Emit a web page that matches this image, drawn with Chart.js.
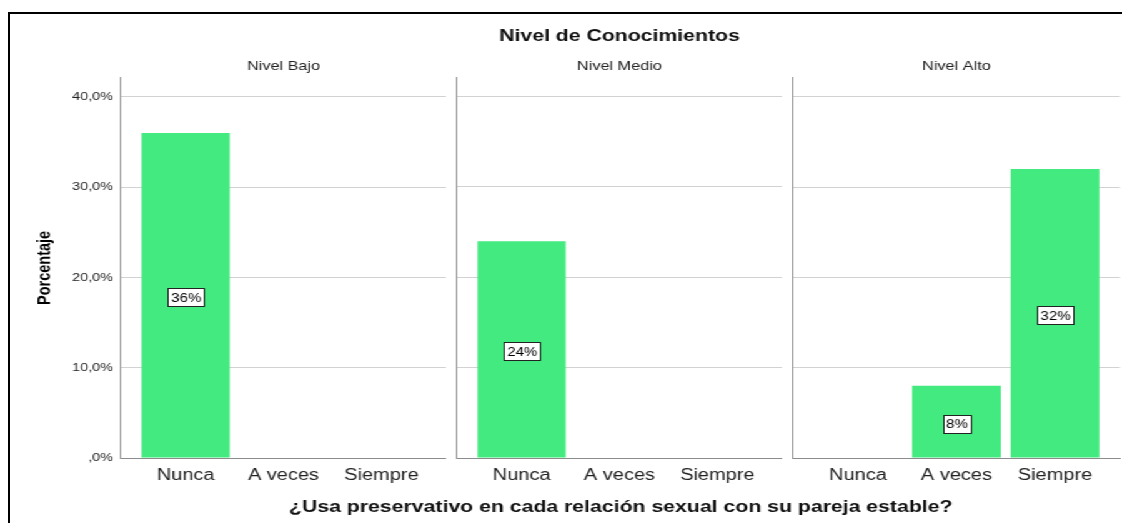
<!DOCTYPE html>
<html>
<head>
<meta charset="utf-8">
<script src="https://cdn.jsdelivr.net/npm/chart.js@4/dist/chart.umd.min.js"></script>
<style>
  body { margin: 0; background: #fff; width: 1122px; height: 523px; overflow: hidden; position: relative; }
  #frame { position: absolute; left: 8px; top: 12px; width: 1200px; height: 600px; border-left: 2px solid #000; border-top: 2px solid #000; }
  /* the original export is stretched horizontally, so the canvases are too */
  #wrap { position: absolute; left: 0; top: 0; width: 898px; height: 523px; transform: scaleX(1.24944); transform-origin: 0 0; }
  canvas { position: absolute; left: 0; top: 0; }
</style>
</head>
<body>
<div id="frame"></div>
<div id="wrap">
  <canvas id="c1" width="898" height="523"></canvas>
  <canvas id="c2" width="898" height="523"></canvas>
  <canvas id="c3" width="898" height="523"></canvas>
</div>
<script>
const chartTitle = 'Nivel de Conocimientos';
const xAxisTitle = '¿Usa preservativo en cada relación sexual con su pareja estable?';
const yAxisTitle = 'Porcentaje';
const categories = ['Nunca', 'A veces', 'Siempre'];
const panelTitles = ['Nivel Bajo', 'Nivel Medio', 'Nivel Alto'];
const nivelBajo = [36, 0, 0];
const nivelMedio = [24, 0, 0];
const nivelAlto = [0, 8, 32];
const yTickValues = [0, 10, 20, 30, 40];
const yTickLabels = [',0%', '10,0%', '20,0%', '30,0%', '40,0%'];

const FONT = '"Liberation Sans", Arial, sans-serif';
const GREEN = '#42EA7F';
const W = 898;
const S = 1122 / W;   // horizontal stretch

// boxed percentage in the middle of each bar
const boxLabels = {
  id: 'boxLabels',
  afterDatasetsDraw(chart) {
    const ctx = chart.ctx;
    const meta = chart.getDatasetMeta(0);
    const ds = chart.data.datasets[0];
    ctx.save();
    ctx.font = '12px ' + FONT;
    ctx.textAlign = 'center';
    ctx.textBaseline = 'middle';
    meta.data.forEach((bar, i) => {
      const v = ds.data[i].y;
      if (!v) return;
      const txt = v + '%';
      const w = Math.round(ctx.measureText(txt).width + 5);
      const h = 18;
      const cx = bar.x;
      const cy = (bar.y + bar.base) / 2 + 2;
      const x0 = Math.round(cx - w / 2) + 0.5, y0 = Math.round(cy - h / 2) + 0.5;
      ctx.fillStyle = '#fff';
      ctx.fillRect(x0, y0, w, h);
      ctx.strokeStyle = '#222';
      ctx.lineWidth = 1;
      ctx.strokeRect(x0, y0, w, h);
      ctx.fillStyle = '#000';
      ctx.fillText(txt, cx + 0.5, cy + 1);
    });
    ctx.restore();
  }
};

// x axis title spanning all three panels (drawn from the middle panel)
const bigXTitle = {
  id: 'bigXTitle',
  afterDraw(chart) {
    const ctx = chart.ctx;
    const a = chart.chartArea;
    ctx.save();
    ctx.font = 'bold 17px ' + FONT;
    ctx.fillStyle = '#111';
    ctx.textAlign = 'center';
    ctx.textBaseline = 'middle';
    ctx.fillText(xAxisTitle, (a.left + a.right) / 2 + 1, 507);
    ctx.restore();
  }
};

function makePanel(id, idx, values, padLeft, padRight) {
  const first = idx === 0;
  const middle = idx === 1;
  const plugins = [boxLabels];
  if (middle) plugins.push(bigXTitle);

  return new Chart(document.getElementById(id), {
    type: 'bar',
    data: {
      datasets: [{
        data: values.map((v, i) => ({ x: i, y: v })),
        backgroundColor: GREEN,
        borderWidth: 0,
        barPercentage: 0.9,
        categoryPercentage: 1
      }]
    },
    options: {
      responsive: false,
      animation: false,
      layout: { padding: { left: padLeft, right: padRight, top: 0, bottom: 0 } },
      plugins: {
        legend: { display: false },
        tooltip: { enabled: false },
        title: middle ? {
          display: true, text: chartTitle, fullSize: false, color: '#111',
          font: { family: FONT, size: 17, weight: 'bold', lineHeight: 1.2 },
          padding: { top: 26.5, bottom: 11.6 }
        } : {
          display: true, text: panelTitles[idx], fullSize: false, color: '#222',
          font: { family: FONT, size: 13, weight: 'normal', lineHeight: 1.2 },
          padding: { top: 58.7, bottom: 3.5 }
        },
        subtitle: {
          display: middle, text: panelTitles[idx], fullSize: false, color: '#222',
          font: { family: FONT, size: 13, weight: 'normal', lineHeight: 1.2 },
          padding: { top: 0, bottom: 3.5 }
        }
      },
      scales: {
        x: {
          type: 'linear',
          offset: false,
          min: -0.66,
          max: 2.66,
          grid: { display: false, drawTicks: false },
          border: { color: '#8c8c8c', width: 1 },
          afterBuildTicks: s => { s.ticks = categories.map((c, i) => ({ value: i })); },
          afterFit: s => { s.height = 65; },
          ticks: {
            callback: v => categories[v],
            color: '#222',
            font: { family: FONT, size: 16 },
            padding: 8,
            maxRotation: 0,
            autoSkip: false
          }
        },
        y: {
          min: 0,
          max: 42.1,
          afterBuildTicks: s => { s.ticks = yTickValues.map(v => ({ value: v })); },
          afterFit: s => { s.width = first ? 121 / S : 0; },
          grid: { color: '#d2d2d2', drawTicks: false },
          border: { color: '#8c8c8c', width: 1 },
          ticks: {
            display: first,
            callback: v => yTickLabels[yTickValues.indexOf(v)],
            color: '#222',
            font: { family: FONT, size: 11.5 },
            padding: 6.4
          },
          title: {
            display: first,
            text: yAxisTitle,
            color: '#000',
            font: { family: FONT, size: 14.5, weight: 'bold', lineHeight: 1.2 },
            padding: { top: 45 / S - 8.7, bottom: 0 }
          }
        }
      }
    },
    plugins: plugins
  });
}

makePanel('c1', 0, nivelBajo, 0, W - 446 / S);
makePanel('c2', 1, nivelMedio, 457 / S, W - 782 / S);
makePanel('c3', 2, nivelAlto, 793 / S, W - 1120 / S);
</script>
</body>
</html>
